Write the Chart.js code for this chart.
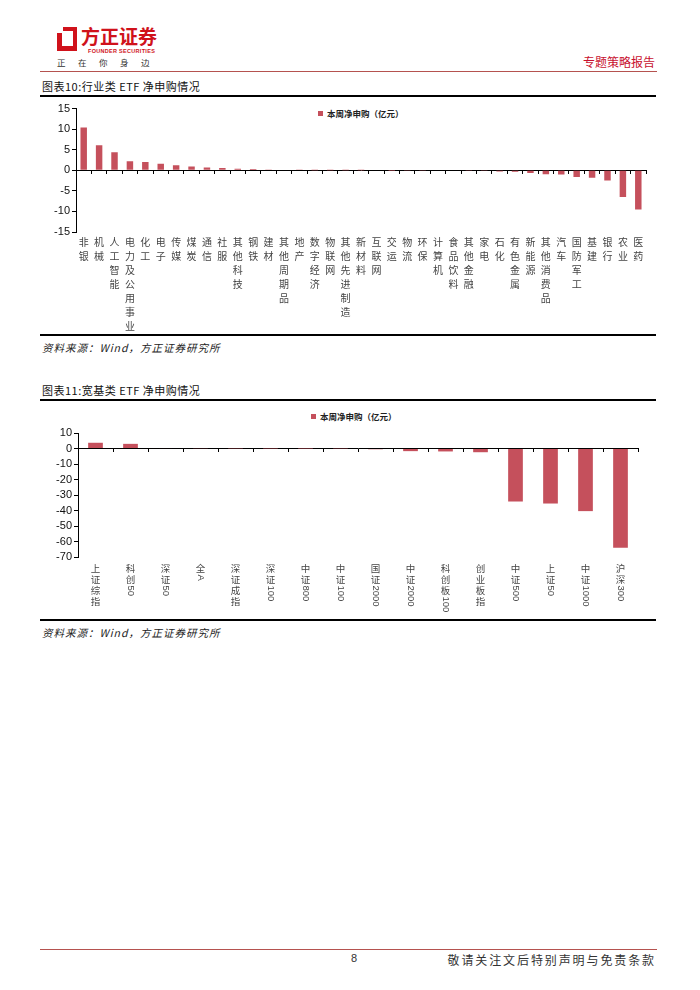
<!DOCTYPE html>
<html>
<head>
<meta charset="utf-8">
<script src="https://cdn.jsdelivr.net/npm/chart.js@4.4.1/dist/chart.umd.min.js"></script>
<style>
  body { margin: 0; width: 700px; height: 990px; background: #fff; position: relative; font-family: "Noto Sans CJK SC", "Liberation Sans", sans-serif; overflow: hidden; }
  .abs { position: absolute; }
  .rule { position: absolute; left: 40px; width: 616px; background: #000; }
  .title { position: absolute; left: 42px; font-size: 11px; color: #111; letter-spacing: 0.5px; }
  .source { position: absolute; left: 42px; font-size: 10.5px; font-style: italic; color: #222; letter-spacing: 1px; }
  .legend { position: absolute; font-size: 8.5px; font-weight: bold; color: #222; }
  .legend i { display: inline-block; width: 5px; height: 5px; background: #C5505C; margin-right: 4px; vertical-align: 1px; }
  .box { position: absolute; left: 40px; width: 616px; }
</style>
</head>
<body>
<!-- header -->
<div class="abs" style="left:57px;top:27px;width:20px;height:24px;background:#D0121B;"></div>
<div class="abs" style="left:62px;top:31px;width:11px;height:15px;background:#fff;"></div>
<div class="abs" style="left:57px;top:27px;width:6px;height:6px;background:#fff;"></div>
<div class="abs" style="left:81px;top:23px;font-size:19px;font-weight:bold;color:#D0121B;letter-spacing:0px;line-height:26px;">方正证券</div>
<div class="abs" style="left:88px;top:48px;font-size:5.5px;font-weight:bold;color:#D0121B;font-family:'Liberation Sans';line-height:6px;letter-spacing:0.3px;">FOUNDER SECURITIES</div>
<div class="abs" style="left:57px;top:56px;font-size:8.5px;color:#333;letter-spacing:12.5px;">正在你身边</div>
<div class="abs" style="left:583px;top:53px;font-size:12px;color:#C8102E;">专题策略报告</div>
<div class="abs" style="left:40px;top:71px;width:617px;height:1px;background:#B5524F;"></div>

<!-- chart 10 -->
<div class="title" style="top:78px;">图表10:行业类 ETF 净申购情况</div>
<div class="rule" style="top:95px;height:2px;"></div>
<div class="legend" style="left:318px;top:107px;"><i></i>本周净申购（亿元）</div>
<div class="box" style="top:100px;height:235px;"><canvas id="industryChart"></canvas></div>
<div class="rule" style="top:334px;height:1.5px;"></div>
<div class="source" style="top:340px;">资料来源：Wind，方正证券研究所</div>

<!-- chart 11 -->
<div class="title" style="top:382px;">图表11:宽基类 ETF 净申购情况</div>
<div class="rule" style="top:399px;height:2px;"></div>
<div class="legend" style="left:311px;top:410px;"><i></i>本周净申购（亿元）</div>
<div class="box" style="top:403px;height:215px;"><canvas id="broadChart"></canvas></div>
<div class="rule" style="top:619px;height:1.5px;"></div>
<div class="source" style="top:625px;">资料来源：Wind，方正证券研究所</div>

<!-- footer -->
<div class="abs" style="left:40px;top:949px;width:617px;height:1px;background:#B5524F;"></div>
<div class="abs" style="left:351px;top:952px;font-size:11px;color:#333;font-family:'Liberation Sans';">8</div>
<div class="abs" style="right:44px;top:951px;font-size:12px;color:#333;letter-spacing:1.9px;">敬请关注文后特别声明与免责条款</div>

<script>
// ----- DATA -----
const industryLabels = ['非银', '机械', '人工智能', '电力及公用事业', '化工', '电子', '传媒', '煤炭', '通信', '社服',
  '其他科技', '钢铁', '建材', '其他周期品', '地产', '数字经济', '物联网', '其他先进制造', '新材料', '互联网',
  '交运', '物流', '环保', '计算机', '食品饮料', '其他金融', '家电', '石化', '有色金属', '新能源',
  '其他消费品', '汽车', '国防军工', '基建', '银行', '农业', '医药']
const industryFlows = [10.4, 6.1, 4.4, 2.2, 2.0, 1.6, 1.2, 0.9, 0.7, 0.55,
  0.4, 0.3, 0.2, 0.15, 0.05, 0.04, 0.03, 0.02, 0.01, 0,
  -0.01, -0.02, -0.03, -0.08, -0.1, -0.15, -0.2, -0.3, -0.35, -0.65,
  -0.95, -1.05, -1.6, -1.8, -2.5, -6.5, -9.5]
const industryTicks = { min: -15, max: 15, step: 5 }

const broadLabels = ['上证综指', '科创50', '深证50', '全A', '深证成指', '深证100', '中证800', '中证100',
  '国证2000', '中证2000', '科创板100', '创业板指', '中证500', '上证50', '中证1000', '沪深300']
const broadFlows = [3.7, 3.0, 0.3, 0.2, 0.1, 0.05, 0.02, -0.1,
  -0.5, -1.7, -1.9, -2.4, -34.2, -35.5, -40.4, -64.1]
const broadTicks = { min: -70, max: 10, step: 10 }

const seriesName = '本周净申购（亿元）'
const barColor = '#C5505C'

// ----- VERTICAL CATEGORY LABELS -----
// chinese chars stacked upright, digit/latin runs turned sideways
function verticalLabels(pitch, cjkSize, latinSize, gap) {
  return {
    id: 'verticalLabels',
    afterDraw(chart) {
      const ctx = chart.ctx
      const xs = chart.scales.x
      const top = chart.chartArea.bottom + gap
      ctx.save()
      ctx.fillStyle = '#444'
      chart.data.labels.forEach((label, i) => {
        const x = xs.getPixelForValue(i)
        let y = top
        const tokens = label.match(/[A-Za-z0-9]+|./g)
        tokens.forEach((tok) => {
          if (/^[A-Za-z0-9]+$/.test(tok)) {
            ctx.font = `${latinSize}px "Liberation Sans", Arial, sans-serif`
            const w = ctx.measureText(tok).width
            ctx.save()
            ctx.translate(x, y - pitch / 2 + 1)
            ctx.rotate(Math.PI / 2)
            ctx.textAlign = 'left'
            ctx.textBaseline = 'middle'
            ctx.fillText(tok, 0, 0)
            ctx.restore()
            y += w + 2
          } else {
            ctx.font = `${cjkSize}px "Noto Sans CJK SC", sans-serif`
            ctx.textAlign = 'center'
            ctx.textBaseline = 'middle'
            ctx.fillText(tok, x, y)
            y += pitch
          }
        })
      })
      ctx.restore()
    },
  }
}

function makeBarChart(canvasId, labels, values, ticks, layout, yWidth, labelOpts) {
  const ctx = document.getElementById(canvasId).getContext('2d')
  return new Chart(ctx, {
    type: 'bar',
    data: {
      labels: labels,
      datasets: [{
        label: seriesName,
        data: values,
        backgroundColor: barColor,
        categoryPercentage: 1,
        barPercentage: 0.42,
      }],
    },
    options: {
      responsive: true,
      maintainAspectRatio: false,
      animation: false,
      layout: { padding: layout },
      plugins: { legend: { display: false }, tooltip: { enabled: false } },
      scales: {
        x: {
          position: { y: 0 },
          ticks: { display: false },
          grid: { display: true, drawOnChartArea: false, drawTicks: true, tickLength: 3, color: '#000', offset: true },
          border: { display: true, color: '#000', width: 1 },
        },
        y: {
          min: ticks.min,
          max: ticks.max,
          afterFit: (s) => { s.width = yWidth },
          ticks: {
            stepSize: ticks.step,
            autoSkip: false,
            color: '#111',
            padding: 2,
            font: { family: '"Liberation Sans", Arial, sans-serif', size: 11 },
          },
          grid: { display: true, drawOnChartArea: false, drawTicks: true, tickLength: 4, color: '#000' },
          border: { display: true, color: '#000', width: 1 },
        },
      },
    },
    plugins: [verticalLabels(labelOpts.pitch, labelOpts.cjk, labelOpts.latin, labelOpts.gap)],
  })
}

makeBarChart('industryChart', industryLabels, industryFlows, industryTicks,
  { top: 8, bottom: 103, left: 0, right: 10 }, 36,
  { pitch: 14, cjk: 10, latin: 10, gap: 10 })

makeBarChart('broadChart', broadLabels, broadFlows, broadTicks,
  { top: 30, bottom: 61, left: 0, right: 18 }, 38,
  { pitch: 11, cjk: 9.5, latin: 9.5, gap: 11 })
</script>
</body>
</html>
